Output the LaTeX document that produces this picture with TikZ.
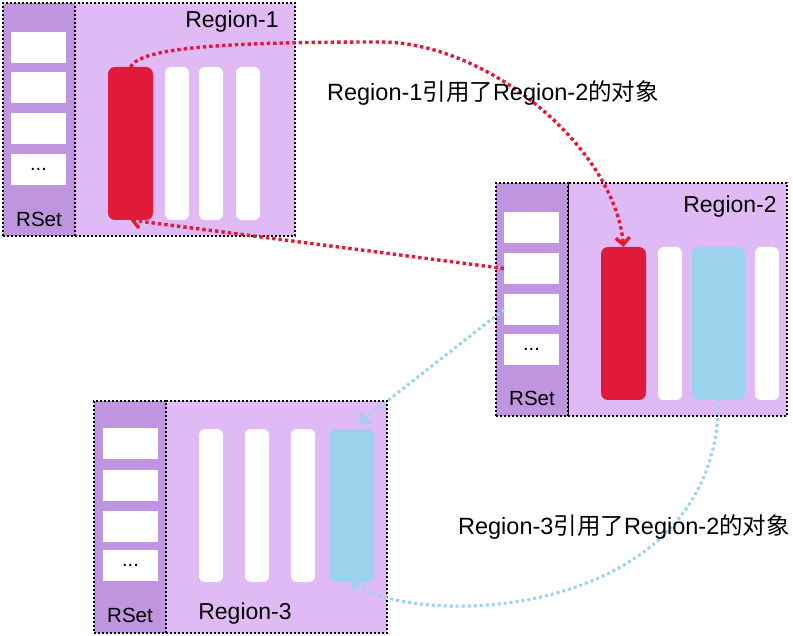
\documentclass[tikz,border=0pt]{standalone}
\usepackage{fontspec}
\setmainfont{Liberation Sans}
\newfontfamily\cjk{Noto Sans CJK SC}
\usetikzlibrary{arrows.meta}
\definecolor{regionfill}{HTML}{E0BAF4}
\definecolor{rsetfill}{HTML}{C095DF}
\definecolor{redc}{HTML}{E01A38}
\definecolor{bluec}{HTML}{9BD3EC}
\tikzset{
  box/.style={anchor=north west, inner sep=0pt, outer sep=0pt},
  regionbox/.style={box, fill=regionfill, draw=black, line width=2pt, dash pattern=on 2pt off 2pt},
  rsetbox/.style={box, fill=rsetfill, draw=black, line width=2pt, dash pattern=on 2pt off 2pt},
  slotbox/.style={box, fill=white, minimum width=55pt, minimum height=31pt},
  bar/.style={box, fill=white, rounded corners=6pt, minimum width=24pt, minimum height=153pt},
  redblock/.style={box, fill=redc, rounded corners=7pt, minimum width=45pt, minimum height=153pt},
  blueblock/.style={box, fill=bluec, rounded corners=7pt, minimum height=153pt},
  rlabel/.style={font=\fontsize{23}{27}\selectfont, inner sep=0pt},
  rsetlabel/.style={font=\fontsize{20.5}{24}\selectfont, inner sep=0pt},
  biglabel/.style={font=\fontsize{23.5}{28}\selectfont, inner sep=0pt},
  dots/.style={font=\fontsize{20}{22}\selectfont, inner sep=0pt},
  redref/.style={draw=redc, line width=3.4pt, dash pattern=on 3.4pt off 3pt, -{Straight Barb[length=7pt,width=14pt]}},
  blueref/.style={draw=bluec, line width=3pt, dash pattern=on 3pt off 3pt, -{Straight Barb[length=7pt,width=14pt]}},
}
\begin{document}
\begin{tikzpicture}[x=1pt,y=-1pt]
\useasboundingbox (0,0) rectangle (793,636);
% ---------- Region-1 ----------
\node[regionbox, minimum width=220pt, minimum height=233pt] (m1) at (75,3) {};
\node[rsetbox, minimum width=72pt, minimum height=233pt] (rs1) at (3,3) {};
\node[slotbox] (s11) at (11,32) {};
\node[slotbox] (s12) at (11,72) {};
\node[slotbox] (s13) at (11,113) {};
\node[slotbox] (s14) at (11,154) {};
\node[dots] (d1) at (s14.center) {...};
\node[redblock] (r1) at (108,67) {};
\node[bar] (w11) at (165,67) {};
\node[bar] (w12) at (199,67) {};
\node[bar] (w13) at (236,67) {};
\node[rlabel] (l1) at (232,22) {Region-1};
\node[rsetlabel] (rl1) at (39,219) {RSet};
% ---------- Region-2 ----------
\node[regionbox, minimum width=219pt, minimum height=233pt] (m2) at (568,183) {};
\node[rsetbox, minimum width=72pt, minimum height=233pt] (rs2) at (496,183) {};
\node[slotbox] (s21) at (504,212) {};
\node[slotbox] (s22) at (504,253) {};
\node[slotbox] (s23) at (504,294) {};
\node[slotbox] (s24) at (504,334) {};
\node[dots] (d2) at (s24.center) {...};
\node[redblock] (r2) at (601,247) {};
\node[bar] (w21) at (658,247) {};
\node[blueblock, minimum width=53pt] (b2) at (692,247) {};
\node[bar] (w22) at (755,247) {};
\node[rlabel] (l2) at (730,207) {Region-2};
\node[rsetlabel] (rl2) at (532,398) {RSet};
% ---------- Region-3 ----------
\node[regionbox, minimum width=221pt, minimum height=232pt] (m3) at (166,401) {};
\node[rsetbox, minimum width=72pt, minimum height=232pt] (rs3) at (94,401) {};
\node[slotbox] (s31) at (103,428) {};
\node[slotbox] (s32) at (103,470) {};
\node[slotbox] (s33) at (103,511) {};
\node[slotbox] (s34) at (103,550) {};
\node[dots] (d3) at (s34.center) {...};
\node[bar] (w31) at (199,429) {};
\node[bar] (w32) at (245,429) {};
\node[bar] (w33) at (291,429) {};
\node[blueblock, minimum width=45pt] (b3) at (329,429) {};
\node[rlabel] (l3) at (245,614) {Region-3};
\node[rsetlabel] (rl3) at (130,615) {RSet};
% ---------- references ----------
\coordinate (top1) at (380,42);
\draw[redref] (r1.north) .. controls (140,48) and (220,42) .. (top1)
  .. controls (490,42) and (615,150) .. (r2.north);
\draw[redref] (s22.west) -- (r1.south);
\draw[blueref, shorten >=10pt] (s23.west) -- (b3.north);
\draw[blueref] (b2.south) .. controls (718,620) and (420,630) .. (b3.south);
% ---------- labels ----------
\node[biglabel] (t1) at (493,93) {Region-1{\cjk 引用了}Region-2{\cjk 的对象}};
\node[biglabel] (t2) at (624,527) {Region-3{\cjk 引用了}Region-2{\cjk 的对象}};
\end{tikzpicture}
\end{document}
